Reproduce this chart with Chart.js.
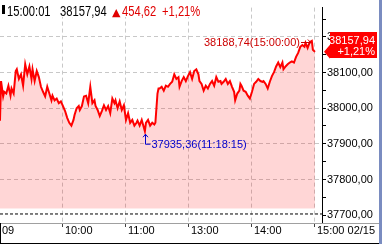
<!DOCTYPE html>
<html><head><meta charset="utf-8">
<script src="https://cdn.jsdelivr.net/npm/chart.js@4.4.0/dist/chart.umd.min.js"></script>
<style>html,body{margin:0;padding:0;background:#fff;overflow:hidden}#wrap{position:relative;width:384px;height:244px}</style>
</head><body><div id="wrap"><canvas id="c" width="384" height="244"></canvas></div>
<script>
// session minutes (09:00 = 0, lunch break removed: 12:30 = 150, 15:00 = 300)
const minutes = [0,1,3,4,6,8,10,11,13,15,16,18,20,22,24,26,28,30,31,33,35,37,39,41,43,45,47,49,50,52,54,56,58,60,62,64,66,68,70,71,73,75,76,78,80,82,84,86,88,90,91,93,95,97,99,101,103,105,107,109,110,112,114,116,118,120,122,124,126,128,130,131,133,135,138,139,141,143,145,147,148,150,151,152,154,156,158,160,162,164,166,168,170,171,173,175,177,179,181,183,185,187,189,190,192,194,196,198,200,202,204,206,208,210,211,213,215,217,219,221,223,224,226,228,229,230,232,234,236,238,240,242,244,246,248,250,251,253,255,257,259,261,263,265,267,269,270,272,274,276,278,280,282,284,286,288,290,291,293,295,297,298,300];
const prices = [37965,38076,38033,38046,38041,38063,38035,38055,38041,38104,38109,38082,38095,38063,38123,38095,38117,38082,38109,38076,38104,38087,38060,38046,38033,38060,38041,38022,38035,38022,38027,38014,38019,38006,37992,37973,37959,37951,37967,37981,38000,38006,37995,38006,38033,38035,38014,38060,38014,38022,38006,37995,37978,37992,38008,37995,38006,37986,38027,38014,38022,38000,38019,37995,38008,37967,37986,37959,37967,37951,37959,37965,37951,37967,37935.36,37959,37967,37951,37959,37954,37959,38041,38055,38055,38060,38049,38063,38060,38068,38074,38095,38082,38087,38060,38076,38087,38076,38090,38101,38082,38104,38109,38095,38076,38068,38049,38063,38055,38068,38076,38063,38087,38074,38076,38068,38074,38082,38068,38076,38060,38046,38022,38041,38049,38068,38063,38049,38046,38035,38027,38046,38068,38074,38082,38076,38074,38076,38068,38055,38074,38090,38101,38117,38128,38115,38128,38109,38117,38123,38128,38131,38128,38144,38155,38172,38177,38172,38183,38169,38185,38188.74,38164,38157.94];
const xTickValues = [0,60,120,180,240,300];
const xTickLabels = ['09','10:00','11:00','13:00','14:00','15:00 02/15'];
const prevClose = 37703.32;
const lastTime = '15:00:01';
const lastPrice = 38157.94;
const change = 454.62;
const changePct = 1.21;
const highPrice = 38188.74, highTime = '15:00:00', highMinute = 297;
const lowPrice = 37935.36, lowTime = '11:18:15', lowMinute = 138;

const fmt = v => v.toFixed(2).replace('.', ',');
const FONT = '"Liberation Sans", Arial, sans-serif';

const overlay = {
  id: 'overlay',
  afterDraw(chart) {
    const ctx = chart.ctx, xs = chart.scales.x, ys = chart.scales.y;
    ctx.save();
    // header
    ctx.fillStyle = '#fff'; ctx.fillRect(0, 0, 206, 17);
    ctx.fillStyle = '#000'; ctx.fillRect(2, 5, 3, 9);
    ctx.save();
    ctx.scale(0.8, 1);
    ctx.font = '14px ' + FONT; ctx.textBaseline = 'alphabetic'; ctx.textAlign = 'left';
    ctx.fillText(lastTime, 7 / 0.8, 15.5);
    ctx.fillText(fmt(lastPrice), 60 / 0.8, 15.5);
    ctx.fillStyle = '#e00000';
    ctx.fillText(fmt(change), 122 / 0.8, 15.5);
    ctx.fillText('+' + fmt(changePct) + '%', 162 / 0.8, 15.5);
    ctx.restore();
    ctx.fillStyle = '#e00000';
    ctx.font = '11px "DejaVu Sans"'; ctx.textBaseline = 'alphabetic';
    ctx.fillText('\u25B2', 112, 15.5);

    // high annotation
    const hx = xs.getPixelForValue(highMinute), hy = ys.getPixelForValue(highPrice);
    ctx.font = '11px ' + FONT; ctx.fillStyle = '#cc0000'; ctx.strokeStyle = '#cc0000';
    ctx.textAlign = 'right'; ctx.textBaseline = 'middle';
    ctx.fillText(fmt(highPrice) + '(' + highTime + ')', 300, hy + 2);
    ctx.lineWidth = 1;
    ctx.beginPath(); ctx.moveTo(301, Math.round(hy) + 1.5); ctx.lineTo(hx - 1, Math.round(hy) + 1.5);
    ctx.moveTo(hx - 4, Math.round(hy) - 1.5); ctx.lineTo(hx - 1, Math.round(hy) + 1.5); ctx.lineTo(hx - 4, Math.round(hy) + 4.5);
    ctx.stroke();

    // low annotation
    const lx = Math.round(xs.getPixelForValue(lowMinute)) + 0.5, ly = ys.getPixelForValue(lowPrice);
    ctx.strokeStyle = '#0000cc'; ctx.fillStyle = '#0000cc';
    ctx.beginPath();
    ctx.moveTo(lx, ly + 3); ctx.lineTo(lx, ly + 13); ctx.lineTo(lx + 5, ly + 13);
    ctx.moveTo(lx - 2.5, ly + 6); ctx.lineTo(lx, ly + 3); ctx.lineTo(lx + 2.5, ly + 6);
    ctx.stroke();
    ctx.textAlign = 'left'; ctx.textBaseline = 'middle';
    ctx.fillText(fmt(lowPrice) + '(' + lowTime + ')', lx + 6, ly + 13.5);

    // last price box
    const cy = ys.getPixelForValue(lastPrice);
    const right = chart.chartArea.right;
    ctx.fillStyle = '#ff0000';
    ctx.beginPath();
    ctx.moveTo(right + 2, cy); ctx.lineTo(right + 8, cy - 7); ctx.lineTo(right + 8, 32);
    ctx.lineTo(377, 32); ctx.lineTo(377, 58); ctx.lineTo(right + 8, 58); ctx.lineTo(right + 8, cy + 7);
    ctx.closePath(); ctx.fill();
    ctx.fillStyle = '#fff'; ctx.textAlign = 'right'; ctx.textBaseline = 'middle';
    ctx.fillText(fmt(lastPrice), 375, 41);
    ctx.fillText('+' + fmt(changePct) + '%', 375, 52);

    // frame
    ctx.strokeStyle = '#a0a0a0'; ctx.lineWidth = 1;
    ctx.beginPath(); ctx.moveTo(0, 223.5); ctx.lineTo(379, 223.5); ctx.stroke();
    ctx.strokeStyle = '#000';
    ctx.beginPath(); ctx.moveTo(0, 243.5); ctx.lineTo(379, 243.5);
    ctx.moveTo(0.5, 223); ctx.lineTo(0.5, 244); ctx.stroke();
    ctx.fillStyle = '#7a8cc0'; ctx.fillRect(379, 0, 3, 244);
    ctx.restore();
  }
};

new Chart(document.getElementById('c'), {
  type: 'line',
  data: {
    datasets: [
      {
        data: minutes.map((m, i) => ({ x: m, y: prices[i] })),
        borderColor: '#ff0000', borderWidth: 2, pointRadius: 0, tension: 0,
        fill: { value: 37719 }, backgroundColor: 'rgba(255,0,0,0.16)'
      },
      {
        data: [{ x: 0, y: prevClose }, { x: 306.7, y: prevClose }],
        borderColor: '#000', borderWidth: 1, borderDash: [3, 2], pointRadius: 0, fill: false
      }
    ]
  },
  options: {
    responsive: false, animation: false, devicePixelRatio: 1,
    layout: { padding: { top: 2, left: 0, right: 0, bottom: 0 } },
    plugins: { legend: { display: false }, tooltip: { enabled: false } },
    scales: {
      x: {
        type: 'linear', min: 0, max: 306.7,
        afterBuildTicks: s => { s.ticks = xTickValues.map(v => ({ value: v })); },
        afterFit: s => { s.height = 21; },
        ticks: {
          autoSkip: false, maxRotation: 0, minRotation: 0, align: 'start', labelOffset: 2, padding: -3,
          color: '#000', font: { family: FONT, size: 11 },
          callback: (v, i) => xTickLabels[i]
        },
        grid: {
          color: c => (c.tick && c.tick.value === 0) ? 'rgba(0,0,0,0)' : '#c8c8c8',
          tickColor: '#404040', tickLength: 4, lineWidth: 1
        },
        border: { display: false, dash: [4, 3] }
      },
      y: {
        type: 'linear', position: 'right', min: 37678, max: 38282,
        afterBuildTicks: s => { const t = []; for (let v = 37700; v <= 38275; v += 25) t.push({ value: v }); s.ticks = t; },
        afterFit: s => { s.width = 62; },
        ticks: {
          padding: 1, color: '#000', font: { family: FONT, size: 11 },
          callback: v => (v % 100 === 0) ? fmt(v) : ''
        },
        grid: {
          color: c => (c.tick && c.tick.value % 100 === 0 && c.tick.value !== 37700) ? '#c8c8c8' : 'rgba(0,0,0,0)',
          tickColor: '#000', tickLength: 4, lineWidth: 1
        },
        border: { display: true, color: '#000', width: 1, dash: [4, 3] }
      }
    }
  },
  plugins: [overlay]
});
</script></body></html>
